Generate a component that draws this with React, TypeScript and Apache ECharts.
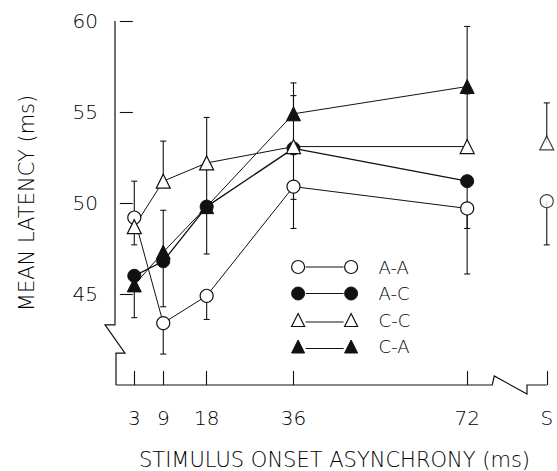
import React, { useEffect, useRef } from "react";
import * as echarts from "echarts";

// SOA conditions (ms) and the position used for the "S" condition on the x axis
const soa = [3, 9, 18, 36, 72];
const S_POS = 88.5;
const xTickValues = [3, 9, 18, 36, 72, S_POS];
const yTickValues = [45, 50, 55, 60];

// Mean latency (ms) per condition
const aaValues = [49.2, 43.4, 44.9, 50.9, 49.7];
const acValues = [46.0, 46.8, 49.8, 53.0, 51.2];
const ccValues = [48.7, 51.2, 52.2, 53.1, 53.1];
const caValues = [45.5, 47.3, 49.8, 54.9, 56.4];
const aaS = 50.1;
const ccS = 53.3;

// Error bar end values (one-sided bars)
const aaErr = [47.7, 41.7, 43.6, 48.6, 46.1];
const acErr = [43.7, 44.3, 47.2, 50.2, 48.6];
const ccErr = [51.2, 53.4, 54.7, 55.9, 56.0];
const caErr: (number | null)[] = [null, 49.6, 52.1, 56.6, 59.7];
const aaSErr = 47.7;
const ccSErr = 55.5;

const FONT = "DejaVu Sans";
const INK = "#111";
const TEXT = "#000";
const WEIGHT = 200;

const circlePair =
  "path://M0,6.5a6.5,6.5 0 1,0 13,0a6.5,6.5 0 1,0 -13,0Z M14,6.5L52,6.5 M53,6.5a6.5,6.5 0 1,0 13,0a6.5,6.5 0 1,0 -13,0Z";
const trianglePair =
  "path://M0,13L6.5,0L13,13Z M14,8.5L52,8.5 M53,13L59.5,0L66,13Z";

function pairs(vals: number[]) {
  return soa.map((x, i) => [x, vals[i]]);
}
function errData(vals: number[], errs: (number | null)[]) {
  const out: number[][] = [];
  soa.forEach((x, i) => {
    const e = errs[i];
    if (e != null) out.push([x, vals[i], e]);
  });
  return out;
}

const openStyle = { color: "#fff", borderColor: INK, borderWidth: 1.2 };
const filledStyle = { color: INK, borderColor: INK, borderWidth: 1 };

function lineSeries(name: string, vals: number[], symbol: string, style: any, width: number) {
  return {
    type: "line",
    name,
    data: pairs(vals),
    symbol,
    symbolSize: symbol === "triangle" ? 14 : 13,
    showSymbol: true,
    lineStyle: { color: INK, width },
    itemStyle: style,
    z: 3,
    emphasis: { disabled: true },
    silent: true,
  };
}

function sPoint(name: string, val: number, symbol: string, style: any) {
  return {
    type: "scatter",
    name,
    data: [[S_POS, val]],
    symbol,
    symbolSize: symbol === "triangle" ? 14 : 13,
    itemStyle: style,
    z: 3,
    silent: true,
  };
}

const allErr = [
  ...errData(aaValues, aaErr),
  ...errData(acValues, acErr),
  ...errData(ccValues, ccErr),
  ...errData(caValues, caErr),
  [S_POS, aaS, aaSErr],
  [S_POS, ccS, ccSErr],
];

export default function App() {
  const ref = useRef<HTMLDivElement>(null);
  useEffect(() => {
    if (!ref.current) return;
    const chart = echarts.init(ref.current, undefined, { renderer: "svg" });
    const option: any = {
      animation: false,
      backgroundColor: "#fff",
      textStyle: { fontFamily: FONT, fontWeight: WEIGHT },
      grid: {
        left: 115,
        right: 3,
        top: 21,
        bottom: 86,
        containLabel: false,
        outerBoundsMode: "none",
      },
      xAxis: {
        type: "value",
        min: -1,
        max: 90,
        axisLine: { show: false },
        splitLine: { show: false },
        axisTick: {
          show: true,
          inside: true,
          length: 14,
          customValues: xTickValues,
          lineStyle: { color: INK, width: 1.1 },
        },
        axisLabel: {
          customValues: xTickValues,
          formatter: (v: number) => (v === S_POS ? "S" : String(v)),
          margin: 23,
          fontSize: 20,
          color: TEXT,
          fontFamily: FONT,
          fontWeight: WEIGHT,
        },
        name: "STIMULUS ONSET ASYNCHRONY (ms)",
        nameLocation: "middle",
        nameGap: 64,
        nameTextStyle: { fontSize: 21, color: TEXT, fontFamily: FONT, fontWeight: WEIGHT },
      },
      yAxis: {
        type: "value",
        min: 40,
        max: 60,
        axisLine: { show: false },
        splitLine: { show: false },
        axisTick: {
          show: true,
          inside: true,
          length: 13,
          customValues: yTickValues,
          lineStyle: { color: INK, width: 1.1 },
        },
        axisLabel: {
          customValues: yTickValues,
          margin: 17,
          fontSize: 20,
          color: TEXT,
          fontFamily: FONT,
          fontWeight: WEIGHT,
        },
        name: "MEAN LATENCY (ms)",
        nameLocation: "middle",
        nameRotate: 90,
        nameGap: 78,
        nameTextStyle: { fontSize: 21, color: TEXT, fontFamily: FONT, fontWeight: WEIGHT },
      },
      legend: {
        show: true,
        orient: "vertical",
        left: 291,
        top: 257,
        padding: 0,
        itemWidth: 66,
        itemHeight: 13,
        itemGap: 6.5,
        selectedMode: false,
        textStyle: {
          fontSize: 18,
          color: TEXT,
          fontFamily: FONT,
          fontWeight: WEIGHT,
          lineHeight: 20,
          padding: [0, 0, 0, 16],
        },
        data: [
          { name: "A-A", icon: circlePair, itemStyle: openStyle },
          { name: "A-C", icon: circlePair, itemStyle: filledStyle },
          { name: "C-C", icon: trianglePair, itemStyle: openStyle },
          { name: "C-A", icon: trianglePair, itemStyle: filledStyle },
        ],
      },
      series: [
        {
          type: "custom",
          name: "errors",
          data: allErr,
          encode: { x: 0, y: [1, 2] },
          z: 1,
          silent: true,
          renderItem: (params: any, api: any) => {
            const x = api.value(0);
            const p0 = api.coord([x, api.value(1)]);
            const p1 = api.coord([x, api.value(2)]);
            const st = { stroke: INK, lineWidth: 1.1 };
            return {
              type: "group",
              children: [
                { type: "line", shape: { x1: p0[0], y1: p0[1], x2: p1[0], y2: p1[1] }, style: st },
                { type: "line", shape: { x1: p1[0] - 3, y1: p1[1], x2: p1[0] + 3, y2: p1[1] }, style: st },
              ],
            };
          },
        },
        lineSeries("A-A", aaValues, "circle", openStyle, 1),
        lineSeries("A-C", acValues, "circle", filledStyle, 1.3),
        lineSeries("C-C", ccValues, "triangle", openStyle, 1),
        lineSeries("C-A", caValues, "triangle", filledStyle, 1),
        sPoint("A-A S", aaS, "circle", openStyle),
        sPoint("C-C S", ccS, "triangle", openStyle),
      ],
    };
    chart.setOption(option);

    // axis lines with break marks
    const px = (x: number, y: number) => chart.convertToPixel({ gridIndex: 0 }, [x, y]) as number[];
    const top = px(-1, 60);
    const bot = px(-1, 40);
    const yb1 = px(-1, 43.3);
    const yb2 = px(-1, 41.75);
    const xb1 = px(77.2, 40);
    const xb2 = px(84.4, 40);
    const xEnd = px(S_POS, 40);
    const ax = top[0];
    const by = bot[1];
    chart.setOption({
      graphic: [
        {
          type: "polyline",
          shape: {
            points: [
              [ax, top[1]],
              [ax, yb1[1]],
              [ax - 10, yb1[1]],
              [ax + 10, yb2[1]],
              [ax + 1, yb2[1]],
              [ax + 1, by],
            ],
          },
          style: { stroke: INK, lineWidth: 1.2, fill: "none" },
          silent: true,
        },
        {
          type: "polyline",
          shape: {
            points: [
              [ax + 1, by],
              [xb1[0], by],
              [xb1[0] + 2, by - 9],
              [xb2[0], by + 9],
              [xb2[0], by],
              [xEnd[0], by],
            ],
          },
          style: { stroke: INK, lineWidth: 1.2, fill: "none" },
          silent: true,
        },
      ],
    });
    return () => chart.dispose();
  }, []);
  return (
    <div
      ref={ref}
      style={{ position: "fixed", left: 0, top: 0, width: 557, height: 471, background: "#fff" }}
    />
  );
}
